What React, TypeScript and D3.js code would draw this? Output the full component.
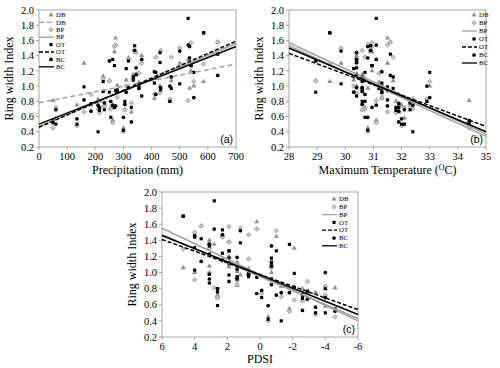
import React from "react";
import * as d3 from "d3";

// one entry per year, shared by all three panels
const precip = [50, 60, 135, 160, 185, 210, 215, 228, 232, 250, 255, 262, 268, 272, 278, 300, 305, 310, 318, 328, 335, 340, 345, 355, 365, 410, 415, 430, 432, 465, 470, 500, 530, 535, 540, 550, 585, 635];
const tmax = [34.4, 32.1, 32.0, 31.5, 31.9, 32.4, 31.8, 30.6, 32.3, 28.95, 30.7, 31.1, 30.95, 31.5, 31.3, 30.8, 30.6, 30.3, 30.4, 31.9, 30.6, 30.9, 30.4, 31.2, 30.4, 31.3, 30.7, 30.4, 30.6, 32.9, 31.7, 29.85, 31.1, 30.8, 30.95, 33.0, 29.45, 31.6];
const pdsi = [-4.6, -4.0, -3.4, -2.1, -2.9, -1.3, -2.6, 1.4, -0.1, -0.7, 2.6, -1.8, -1.0, 0.2, 1.4, -0.5, 2.6, 3.1, 3.1, -2.6, -0.7, 2.3, 2.3, 0.7, 3.1, 1.4, 1.9, 4.0, 0.7, -4.0, 1.9, 4.0, 2.8, 1.2, 1.9, -0.7, 4.7, 3.6];

const rwiDB = [0.81, 0.58, 0.75, 1.30, 0.75, 0.83, 0.80, 1.13, 0.75, 1.07, 0.72, 0.55, 1.45, 1.63, 1.01, 0.45, 0.69, 1.08, 1.37, 0.66, 1.15, 1.45, 1.16, 1.05, 1.40, 0.84, 1.10, 1.00, 0.98, 0.80, 1.07, 1.30, 1.35, 0.97, 1.20, 1.00, 1.06, 1.58];
const rwiBP = [0.45, 0.72, 0.48, 0.66, 0.89, 0.70, 0.65, 1.10, 0.74, 1.07, 0.70, 0.52, 1.52, 1.54, 0.85, 0.40, 0.69, 1.00, 1.35, 0.78, 1.10, 1.46, 1.44, 1.17, 1.30, 0.90, 1.38, 0.91, 1.47, 0.83, 1.38, 1.50, 0.81, 1.55, 1.57, 1.06, 1.29, 1.58];
const rwiOT = [0.55, 0.50, 0.50, 0.99, 0.77, 0.40, 0.68, 1.06, 0.69, 0.92, 0.59, 1.35, 1.27, 0.94, 0.95, 0.42, 0.80, 1.23, 1.33, 0.72, 1.12, 1.53, 1.24, 1.00, 0.87, 1.04, 1.18, 1.31, 0.95, 0.80, 0.97, 1.03, 1.89, 1.37, 1.27, 1.18, 1.70, 1.42];
const rwiBC = [0.52, 0.69, 0.57, 0.82, 0.67, 0.75, 0.72, 0.93, 0.78, 1.33, 0.80, 0.75, 0.72, 0.74, 0.92, 0.59, 0.76, 0.92, 0.98, 0.53, 1.08, 1.47, 1.15, 0.97, 1.35, 1.19, 0.89, 1.44, 0.98, 1.00, 1.12, 1.46, 1.54, 1.52, 1.27, 0.85, 1.70, 1.14];

const yTicks = [0.2, 0.4, 0.6, 0.8, 1.0, 1.2, 1.4, 1.6, 1.8, 2.0];
const precipTicks = [0, 100, 200, 300, 400, 500, 600, 700];
const tmaxTicks = [28, 29, 30, 31, 32, 33, 34, 35];
const pdsiTicks = [6, 4, 2, 0, -2, -4, -6];

// fitted lines, value at the left and right end of each x axis
const precipFits = [
  { name: "DB", y0: 0.78, y1: 1.29 },
  { name: "BP", y0: 0.47, y1: 1.56 },
  { name: "OT", y0: 0.46, y1: 1.59 },
  { name: "BC", y0: 0.5, y1: 1.52 },
];
const tmaxFits = [
  { name: "DB", y0: 1.53, y1: 0.34 },
  { name: "BP", y0: 1.57, y1: 0.37 },
  { name: "OT", y0: 1.43, y1: 0.47 },
  { name: "BC", y0: 1.5, y1: 0.4 },
];
const pdsiFits = [
  { name: "DB", y0: 1.47, y1: 0.43 },
  { name: "BP", y0: 1.55, y1: 0.4 },
  { name: "OT", y0: 1.41, y1: 0.54 },
  { name: "BC", y0: 1.46, y1: 0.48 },
];

const legendA = ["DB", "DB-line", "BP", "BP-line", "OT", "OT-line", "BC", "BC-line"];
const legendBC = ["DB", "BP", "BP-line", "OT", "OT-line", "BC", "BC-line"];

const rwi: Record<string, number[]> = { DB: rwiDB, BP: rwiBP, OT: rwiOT, BC: rwiBC };
const seriesNames = ["DB", "BP", "OT", "BC"];

const serif = "Liberation Serif, DejaVu Serif, serif";
const frameColor = "#a6a6a6";

const symPath: Record<string, string> = {
  DB: d3.symbol().type(d3.symbolTriangle).size(11)() as string,
  BP: d3.symbol().type(d3.symbolDiamond2).size(13)() as string,
  OT: d3.symbol().type(d3.symbolSquare).size(10)() as string,
  BC: d3.symbol().type(d3.symbolCircle).size(11)() as string,
};

function Marker({ name }: { name: string }) {
  if (name === "DB") return <path d={symPath.DB} fill="#8f8f8f" />;
  if (name === "BP") return <path d={symPath.BP} fill="#c8c8c8" stroke="#8a8a8a" strokeWidth={0.7} />;
  return <path d={symPath[name]} fill="#000" />;
}

function lineStyle(name: string, dbSolid: boolean) {
  if (name === "DB") return { stroke: "#a0a0a0", dash: dbSolid ? undefined : "5,3" };
  if (name === "BP") return { stroke: "#a0a0a0", dash: undefined };
  if (name === "OT") return { stroke: "#000", dash: "4,2" };
  return { stroke: "#000", dash: undefined };
}

type PanelProps = {
  left: number; top: number; width: number; height: number;
  xDomain: [number, number]; xTicks: number[]; xs: number[];
  xLabel: React.ReactNode; titleGap: number; fits: { name: string; y0: number; y1: number }[];
  legend: string[]; legX: number; legY: number; legStep: number;
  tag: string; dbSolid: boolean;
};

function Panel(p: PanelProps) {
  const x = d3.scaleLinear().domain(p.xDomain).range([p.left, p.left + p.width]);
  const y = d3.scaleLinear().domain([0.2, 2.0]).range([p.top + p.height, p.top]);
  const bottom = p.top + p.height;
  const right = p.left + p.width;
  const fmt = d3.format(".1f");
  return (
    <g>
      <rect x={p.left} y={p.top} width={p.width} height={p.height} fill="none" stroke={frameColor} strokeWidth={1} />
      {yTicks.map((t) => (
        <g key={"y" + t}>
          <line x1={p.left - 3} x2={p.left} y1={y(t)} y2={y(t)} stroke={frameColor} />
          <text x={p.left - 5} y={y(t)} dy="0.35em" textAnchor="end" fontSize={10.5} fontFamily={serif}>{fmt(t)}</text>
        </g>
      ))}
      {p.xTicks.map((t) => (
        <g key={"x" + t}>
          <line x1={x(t)} x2={x(t)} y1={bottom} y2={bottom + 3} stroke={frameColor} />
          <text x={x(t)} y={bottom + 12.5} textAnchor="middle" fontSize={10.5} fontFamily={serif}>{String(t)}</text>
        </g>
      ))}
      <text transform={`translate(${p.left - 26},${p.top + p.height / 2}) rotate(-90)`} textAnchor="middle" fontSize={12} fontFamily={serif}>Ring width Index</text>
      <text x={p.left + p.width / 2} y={bottom + p.titleGap} textAnchor="middle" fontSize={12} fontFamily={serif}>{p.xLabel}</text>

      {seriesNames.map((s) => (
        <g key={s}>
          {p.xs.map((xv, i) => (
            <g key={i} transform={`translate(${x(xv)},${y(rwi[s][i])})`}>
              <Marker name={s} />
            </g>
          ))}
        </g>
      ))}

      {p.fits.map((f) => {
        const st = lineStyle(f.name, p.dbSolid);
        return (
          <line key={f.name} x1={x(p.xDomain[0])} y1={y(f.y0)} x2={x(p.xDomain[1])} y2={y(f.y1)}
            stroke={st.stroke} strokeWidth={1.5} strokeDasharray={st.dash} />
        );
      })}

      {p.legend.map((e, i) => {
        const ly = p.legY + i * p.legStep;
        const name = e.replace("-line", "");
        const isLine = e.endsWith("-line");
        const st = lineStyle(name, false);
        return (
          <g key={e}>
            {isLine ? (
              <line x1={p.legX - 12} x2={p.legX + 3} y1={ly} y2={ly} stroke={st.stroke} strokeWidth={1.3} strokeDasharray={st.dash} />
            ) : (
              <g transform={`translate(${p.legX},${ly})`}><Marker name={name} /></g>
            )}
            <text x={p.legX + 5} y={ly} dy="0.33em" fontSize={6.8} fontFamily={serif}>{name}</text>
          </g>
        );
      })}

      <text x={right - 3} y={bottom - 4} textAnchor="end" fontSize={10.5} fontFamily="Liberation Sans, Arial, sans-serif">{p.tag}</text>
    </g>
  );
}

export default function App() {
  return (
    <svg width={500} height={368} style={{ position: "absolute", left: 0, top: 0, background: "#fff" }}>
      <Panel left={39} top={10} width={197} height={137} xDomain={[0, 700]} xTicks={precipTicks} xs={precip}
        xLabel="Precipitation (mm)" titleGap={27} fits={precipFits} legend={legendA} legX={51} legY={15} legStep={7.4} tag="(a)" dbSolid={false} />
      <Panel left={289} top={10} width={197} height={137} xDomain={[28, 35]} xTicks={tmaxTicks} xs={tmax}
        xLabel={<>Maximum Temperature (<tspan dy={-4} fontSize={8}>O</tspan><tspan dy={4}>C)</tspan></>}
        titleGap={27} fits={tmaxFits} legend={legendBC} legX={474} legY={15} legStep={8} tag="(b)" dbSolid={true} />
      <Panel left={162} top={192} width={196} height={145} xDomain={[6, -6]} xTicks={pdsiTicks} xs={pdsi}
        xLabel="PDSI" titleGap={26} fits={pdsiFits} legend={legendBC} legX={334} legY={199} legStep={7.8} tag="(c)" dbSolid={true} />
    </svg>
  );
}
